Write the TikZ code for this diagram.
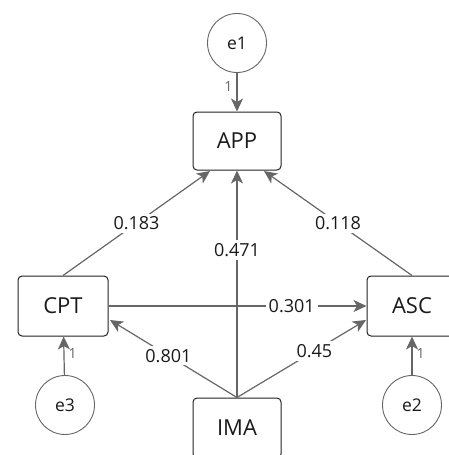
\documentclass[tikz,border=0pt]{standalone}
\usepackage{fontspec}
\setmainfont{Open Sans}
\usetikzlibrary{arrows.meta}
\definecolor{linegray}{HTML}{666666}
\definecolor{boxline}{HTML}{222222}
\definecolor{txt}{HTML}{1A1A1A}
\tikzset{
  varbox/.style={draw=boxline, line width=1pt, rounded corners=4pt, minimum width=88pt, minimum height=58pt, inner sep=0pt, font=\fontsize{22}{22}\selectfont, text=txt},
  errc/.style={draw=linegray, line width=0.9pt, circle, minimum size=59pt, inner sep=0pt, font=\fontsize{17.5}{17.5}\selectfont, text=txt},
  conn/.style={draw=linegray, line width=1.2pt, -{Stealth[length=13pt,width=12pt,inset=3.5pt]}},
  coef/.style={fill=white, inner sep=3pt, font=\fontsize{18}{18}\selectfont, text=txt},
  one/.style={font=\fontsize{14}{14}\selectfont, text=linegray, inner sep=1pt}
}
\begin{document}
\begin{tikzpicture}[x=1pt,y=-1pt]
\useasboundingbox (0,0) rectangle (449,455);
\node[errc] (e1) at (237,43) {e1};
\node[varbox] (app) at (237,141) {APP};
\node[varbox, minimum width=90pt, minimum height=60pt] (cpt) at (63,306) {CPT};
\node[varbox, minimum width=90pt, minimum height=60pt] (asc) at (412,306) {ASC};
\node[varbox, minimum width=88pt, minimum height=60pt] (ima) at (237,428) {IMA};
\node[errc] (e3) at (65,405) {e3};
\node[errc] (e2) at (412,405) {e2};
\coordinate (appL) at (210,171);
\coordinate (appR) at (264,171);
\coordinate (cptR) at (110,320);
\coordinate (ascL) at (366,320);

\draw[conn] (e1) -- node[one, pos=0.35, left=3pt] {1} (app);
\draw[conn] (e3) -- node[one, pos=0.55, right=3pt] {1} (cpt);
\draw[conn] (e2) -- node[one, pos=0.55, right=3pt] {1} (asc);

\draw[conn] (cpt.north) -- node[coef, pos=0.5] {0.183} (appL);
\draw[conn] (asc.north) -- node[coef, pos=0.5] {0.118} (appR);
\draw[conn] (ima.north) -- node[coef, pos=0.65] {0.471} (app.south);
\draw[conn] (cpt.east) -- node[coef, pos=0.71] {0.301} (asc.west);
\draw[conn] (ima.north) -- node[coef, pos=0.54] {0.801} (cptR);
\draw[conn] (ima.north) -- node[coef, pos=0.6] {0.45} (ascL);
\end{tikzpicture}
\end{document}
